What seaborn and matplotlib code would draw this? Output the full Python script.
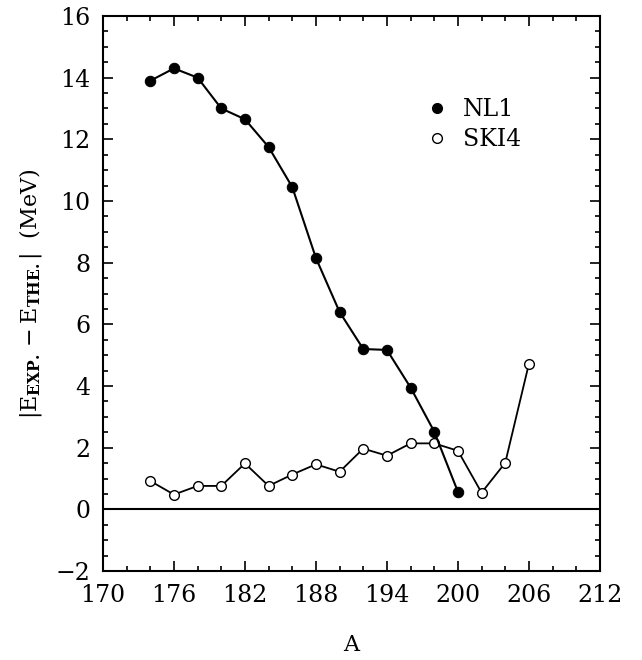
import numpy as np
import pandas as pd
import seaborn as sns
import matplotlib.pyplot as plt
from matplotlib.lines import Line2D
from matplotlib.ticker import MultipleLocator

sns.set_style('ticks')
plt.rcParams['font.family'] = ['DejaVu Serif']
plt.rcParams['mathtext.fontset'] = 'dejavuserif'
plt.rcParams['text.color'] = 'black'
plt.rcParams['axes.labelcolor'] = 'black'
plt.rcParams['axes.edgecolor'] = 'black'
plt.rcParams['xtick.color'] = 'black'
plt.rcParams['ytick.color'] = 'black'

# Data
a_nl1 = [174, 176, 178, 180, 182, 184, 186, 188, 190, 192, 194, 196, 198, 200]
e_nl1 = [13.9, 14.3, 14.0, 13.0, 12.65, 11.75, 10.45, 8.15, 6.4, 5.2, 5.17, 3.95, 2.52, 0.57]

a_ski4 = [174, 176, 178, 180, 182, 184, 186, 188, 190, 192, 194, 196, 198, 200, 202, 204, 206]
e_ski4 = [0.92, 0.48, 0.76, 0.76, 1.49, 0.76, 1.13, 1.46, 1.22, 1.97, 1.74, 2.14, 2.14, 1.9, 0.54, 1.51, 4.72]

x_ticks = [170, 176, 182, 188, 194, 200, 206, 212]
y_ticks = [-2, 0, 2, 4, 6, 8, 10, 12, 14, 16]

df_nl1 = pd.DataFrame({'A': a_nl1, 'dE': e_nl1})
df_ski4 = pd.DataFrame({'A': a_ski4, 'dE': e_ski4})

fig = plt.figure(figsize=(6.42, 6.60), dpi=100)
ax = fig.add_axes([0.1604, 0.1348, 0.774, 0.841])

ax.axhline(0, color='black', lw=1.5, zorder=1)

sns.lineplot(data=df_ski4, x='A', y='dE', ax=ax, color='black', lw=1.3,
             marker='o', markersize=7, markerfacecolor='white',
             markeredgecolor='black', markeredgewidth=1.0, zorder=2)
sns.lineplot(data=df_nl1, x='A', y='dE', ax=ax, color='black', lw=1.5,
             marker='o', markersize=7.5, markerfacecolor='black',
             markeredgecolor='black', zorder=3)

ax.set_xlim(170, 212)
ax.set_ylim(-2, 16)
ax.set_xticks(x_ticks)
ax.set_yticks(y_ticks)
ax.xaxis.set_minor_locator(MultipleLocator(2))
ax.yaxis.set_minor_locator(MultipleLocator(0.5))
ax.tick_params(which='both', direction='in', top=True, right=True,
               labelsize=17, width=1.2, pad=9)
ax.tick_params(which='major', length=7)
ax.tick_params(which='minor', length=3.5)
for sp in ax.spines.values():
    sp.set_linewidth(1.5)

ax.set_xlabel('A', fontsize=16, labelpad=20)
ax.set_ylabel(r'$|\mathrm{E}_{\mathbf{EXP.}}-\mathrm{E}_{\mathbf{THE.}}|$  (MeV)',
              fontsize=16, labelpad=8)

handles = [
    Line2D([], [], ls='none', marker='o', markersize=7, color='black'),
    Line2D([], [], ls='none', marker='o', markersize=7, markerfacecolor='white',
           markeredgecolor='black'),
]
ax.legend(handles, ['NL1', 'SKI4'], loc='upper left',
          bbox_to_anchor=(0.6, 0.89), frameon=False, fontsize=17,
          handletextpad=0.5, labelspacing=0.3, handlelength=1.2)

fig.savefig('out.png', dpi=100)
